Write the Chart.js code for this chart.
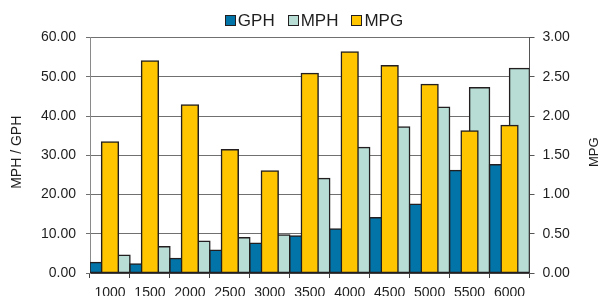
<!DOCTYPE html>
<html>
<head>
<meta charset="utf-8">
<script src="https://cdn.jsdelivr.net/npm/chart.js@4/dist/chart.umd.min.js"></script>
<style>
  html, body { margin: 0; padding: 0; background: #fff; }
  #wrap { width: 608px; height: 296px; position: relative; }
</style>
</head>
<body>
<div id="wrap"><canvas id="c" width="608" height="296"></canvas></div>
<script>
const categories = ['1000', '1500', '2000', '2500', '3000', '3500', '4000', '4500', '5000', '5500', '6000'];
const gph = [2.7, 2.3, 3.7, 5.8, 7.6, 9.4, 11.2, 14.1, 17.5, 26.1, 27.6];
const mph = [4.5, 6.7, 8.1, 9.0, 9.7, 24.1, 32.0, 37.2, 42.2, 47.2, 52.1];
const mpg = [1.67, 2.70, 2.14, 1.57, 1.30, 2.54, 2.815, 2.64, 2.40, 1.81, 1.88];
const seriesNames = ['GPH', 'MPH', 'MPG'];
const leftTitle = 'MPH / GPH';
const rightTitle = 'MPG';

const FONT = '"Liberation Sans", Arial, sans-serif';
const TXT = '#1e1e1e';
const EDGE = '#231f20';

const overlay = {
  id: 'overlay',
  afterDraw(chart) {
    const ctx = chart.ctx, ca = chart.chartArea;
    ctx.save();
    ctx.font = '17px ' + FONT;
    ctx.textBaseline = 'alphabetic';
    ctx.textAlign = 'left';
    const items = chart.data.datasets.map(d => ({ label: d.label, color: d.backgroundColor, w: ctx.measureText(d.label).width }));
    const box = 10, gap = 3, itemGap = 13;
    const total = items.reduce((s, it) => s + box + gap + it.w, 0) + itemGap * (items.length - 1);
    let x = chart.width / 2 + 10 - total / 2;
    const base = 25.5;
    items.forEach(it => {
      ctx.fillStyle = it.color;
      ctx.fillRect(Math.round(x) + 0.5, base - 10, box, box);
      ctx.strokeStyle = EDGE;
      ctx.lineWidth = 1;
      ctx.strokeRect(Math.round(x) + 0.5, base - 10, box, box);
      ctx.fillStyle = TXT;
      ctx.fillText(it.label, x + box + gap, base);
      x += box + gap + it.w + itemGap;
    });
    ctx.font = '14px ' + FONT;
    ctx.textAlign = 'center';
    ctx.textBaseline = 'middle';
    const cy = (ca.top + ca.bottom) / 2 - 3;
    ctx.save();
    ctx.translate(16.7, cy);
    ctx.rotate(-Math.PI / 2);
    ctx.fillText(leftTitle, 0, 0);
    ctx.restore();
    ctx.font = '13px ' + FONT;
    ctx.save();
    ctx.translate(594, cy);
    ctx.rotate(-Math.PI / 2);
    ctx.fillText(rightTitle, 0, 0);
    ctx.restore();
    ctx.restore();
  }
};

new Chart(document.getElementById('c'), {
  type: 'bar',
  data: {
    labels: categories,
    datasets: [
      { label: seriesNames[0], data: gph, backgroundColor: '#0274a7', yAxisID: 'y', order: 1,
        categoryPercentage: 1, barPercentage: 1 },
      { label: seriesNames[1], data: mph, backgroundColor: '#b7ddd5', yAxisID: 'y', order: 1,
        categoryPercentage: 1, barPercentage: 1 },
      { label: seriesNames[2], data: mpg, backgroundColor: '#ffc600', yAxisID: 'y1', order: 0,
        grouped: false, categoryPercentage: 1, barPercentage: 0.42 }
    ]
  },
  options: {
    responsive: false,
    animation: false,
    devicePixelRatio: 1,
    layout: { padding: { top: 37.5, left: 0, right: 0, bottom: 0 } },
    datasets: {
      bar: { borderColor: EDGE, borderWidth: 1.5, borderSkipped: false, inflateAmount: 0.75 }
    },
    plugins: {
      legend: { display: false },
      title: { display: false },
      tooltip: { enabled: false }
    },
    scales: {
      x: {
        type: 'category',
        offset: true,
        grid: { offset: true, drawOnChartArea: false, drawTicks: true, tickLength: 5, color: '#404040', lineWidth: 1 },
        border: { display: true, color: '#404040', width: 1 },
        ticks: { color: TXT, font: { family: FONT, size: 14 }, padding: 7, maxRotation: 0, autoSkip: false },
        afterFit(s) { s.height = 23; }
      },
      y: {
        position: 'left',
        min: 0, max: 60,
        ticks: { stepSize: 10, color: TXT, font: { family: FONT, size: 14 }, padding: 10,
                 callback: v => Number(v).toFixed(2) },
        grid: { color: '#707070', lineWidth: 1, tickLength: 4, drawTicks: true },
        border: { display: true, color: '#8a8a8a', width: 1 },
        afterFit(s) { s.width = 90; }
      },
      y1: {
        position: 'right',
        min: 0, max: 3,
        ticks: { stepSize: 0.5, color: TXT, font: { family: FONT, size: 14 }, padding: 8,
                 callback: v => Number(v).toFixed(2) },
        grid: { drawOnChartArea: false, color: '#555555', lineWidth: 1, tickLength: 5, drawTicks: true },
        border: { display: true, color: '#555555', width: 1 },
        afterFit(s) { s.width = 78.5; }
      }
    }
  },
  plugins: [overlay]
});
</script>
</body>
</html>
